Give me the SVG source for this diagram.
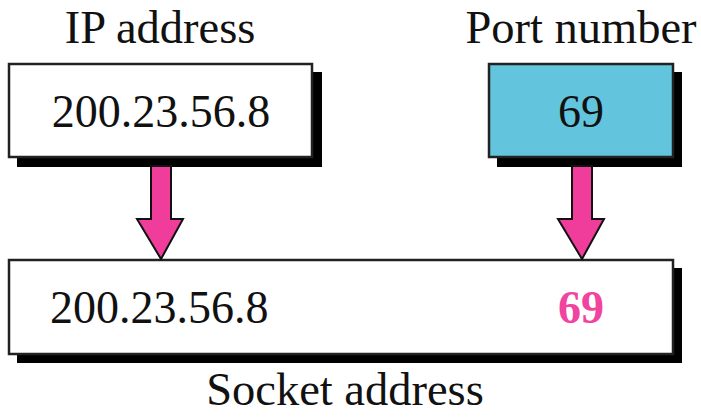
<svg xmlns="http://www.w3.org/2000/svg" width="701" height="418" viewBox="0 0 701 418">
  <style>
    .lbl { font-family: "Liberation Serif", "Times New Roman", serif; font-size: 46.5px; fill: #111; }
    .val { font-family: "Liberation Serif", "Times New Roman", serif; font-size: 46px; fill: #111; }
    .hot { font-family: "Liberation Serif", "Times New Roman", serif; font-size: 46px; font-weight: bold; fill: #F0449E; }
    .shadow { fill: #000; }
    .box { stroke: #222; stroke-width: 2.5; }
    .arrow { fill: #F03C9A; stroke: #111; stroke-width: 2; stroke-linejoin: miter; }
  </style>
  <rect width="701" height="418" fill="#fff"/>

  <!-- titles -->
  <text class="lbl" x="160" y="43" text-anchor="middle">IP address</text>
  <text class="lbl" x="581" y="43" text-anchor="middle">Port number</text>
  <text class="lbl" x="345" y="405" text-anchor="middle">Socket address</text>

  <!-- IP address node -->
  <g id="ip-node">
    <rect class="shadow" x="17" y="72" width="305" height="95"/>
    <rect class="box" x="9" y="64" width="303" height="93" fill="#fff"/>
    <text class="val" x="161" y="127" text-anchor="middle">200.23.56.8</text>
  </g>

  <!-- Port number node -->
  <g id="port-node">
    <rect class="shadow" x="497" y="72" width="185" height="95"/>
    <rect class="box" x="489" y="64" width="184" height="93" fill="#63C4DD"/>
    <text class="val" x="581" y="127" text-anchor="middle">69</text>
  </g>

  <!-- Socket address node -->
  <g id="socket-node">
    <rect class="shadow" x="17" y="268" width="665" height="95"/>
    <rect class="box" x="9" y="260" width="664" height="94" fill="#fff"/>
    <text class="val" x="50" y="323">200.23.56.8</text>
    <text class="hot" x="581" y="323" text-anchor="middle">69</text>
  </g>

  <!-- connectors -->
  <g id="connectors">
    <path class="arrow" d="M151,166 L171,166 L171,219 L183,219 L161,259 L137,219 L151,219 Z"/>
    <path class="arrow" d="M572,166 L592,166 L592,219 L604,219 L582,259 L558,219 L572,219 Z"/>
  </g>
</svg>
